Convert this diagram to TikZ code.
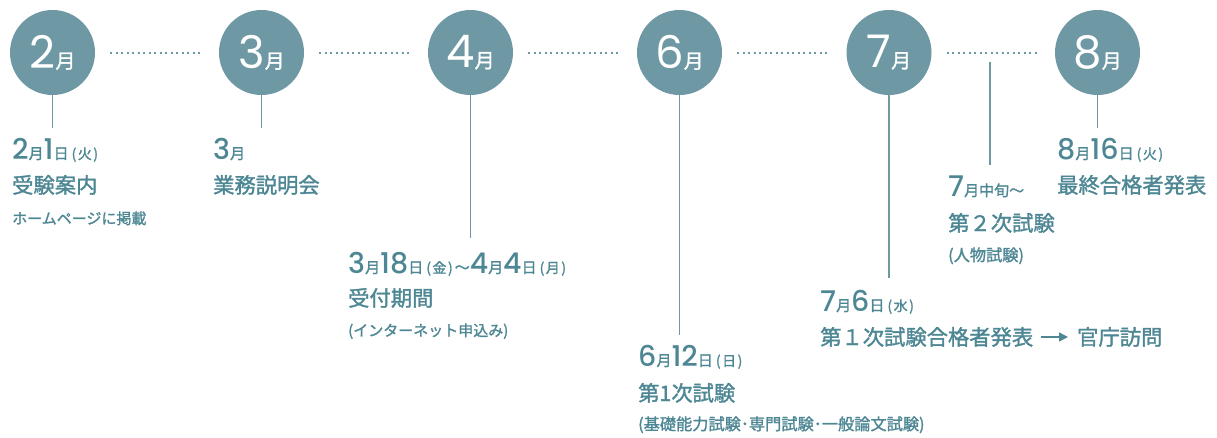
\documentclass[tikz,border=0pt]{standalone}
\usepackage{fontspec}
\usetikzlibrary{arrows.meta}
\newfontfamily\cjk{Noto Sans CJK JP}[FakeBold=1.5]
\newfontfamily\dgfont{Poppins}
\newfontfamily\dgfontm{Poppins Medium}
\definecolor{circ}{RGB}{109,152,164}
\definecolor{txt}{RGB}{78,135,148}
\newcommand\dg[1]{{\dgfontm\fontsize{28.5}{28.5}\selectfont #1}}
\newcommand\sm[1]{{\cjk\fontsize{15}{15}\selectfont #1}}
\newcommand\ps[1]{{\cjk\fontsize{14}{14}\selectfont\kern3pt(\kern1.5pt#1\kern1.5pt)}}
\newcommand\monthlbl[1]{{\dgfont\fontsize{45}{45}\selectfont #1}{\cjk\fontsize{20}{20}\selectfont 月}}
\tikzset{
  month/.style={circle, fill=circ, minimum size=85pt, inner sep=0pt, text=white},
  dotline/.style={circ, line width=2pt, dash pattern=on 2pt off 3.5pt, shorten <=15pt, shorten >=16pt},
  vline/.style={circ, line width=1.6pt},
  datetxt/.style={anchor=base west, inner sep=0pt, text=txt},
  titletxt/.style={anchor=base west, inner sep=0pt, text=txt, font=\cjk\fontsize{21.3}{21.3}\selectfont},
  notetxt/.style={anchor=base west, inner sep=0pt, text=txt, font=\cjk\fontsize{15}{15}\selectfont},
  bignote/.style={notetxt, font=\cjk\fontsize{16.2}{16.2}\selectfont},
  arr/.style={txt, line width=1.6pt, -{Triangle[length=9pt,width=9pt]}}
}
\begin{document}
\begin{tikzpicture}[x=1pt,y=-1pt]
\useasboundingbox (0,0) rectangle (1217,437);
% month circles
\node[month] (m2) at (52.5,52.5) {\monthlbl{2}};
\node[month] (m3) at (261.5,52.5) {\monthlbl{3}};
\node[month] (m4) at (470.5,52.5) {\monthlbl{4}};
\node[month] (m6) at (679.5,52.5) {\monthlbl{6}};
\node[month] (m7) at (889,52.5) {\monthlbl{7}};
\node[month] (m8) at (1097.5,52.5) {\monthlbl{8}};
% dotted connectors
\draw[dotline] (m2) -- (m3);
\draw[dotline] (m3) -- (m4);
\draw[dotline] (m4) -- (m6);
\draw[dotline] (m6) -- (m7);
\draw[dotline] (m7) -- (m8);
% line ends
\coordinate (e2) at (52.5,128);
\coordinate (e3) at (261.5,128);
\coordinate (e4) at (470.5,238);
\coordinate (e6) at (679.5,335);
\coordinate (e7) at (889,278);
\coordinate (e8) at (1097.5,128);
\coordinate (mt) at (990,62);
\coordinate (mb) at (990,165);
\draw[vline] (m2.south) -- (e2);
\draw[vline] (m3.south) -- (e3);
\draw[vline] (m4.south) -- (e4);
\draw[vline] (m6.south) -- (e6);
\draw[vline] (m7.south) -- (e7);
\draw[vline] (m8.south) -- (e8);
\draw[vline] (mt) -- (mb);
% February
\node[datetxt] (d2) at (12,159) {\dg{2}\sm{月}\dg{1}\sm{日}\ps{火}};
\node[titletxt] (t2) at (12,193) {受験案内};
\node[notetxt] (n2) at (12,224) {ホームページに掲載};
% March
\node[datetxt] (d3) at (213,159) {\dg{3}\sm{月}};
\node[titletxt] (t3) at (213,193) {業務説明会};
% April
\node[datetxt] (d4) at (348,273) {\dg{3}\sm{月}\dg{18}\sm{日}\ps{金}\sm{\kern2pt\char"FF5E}\dg{4}\sm{月}\dg{4}\sm{日}\ps{月}};
\node[titletxt] (t4) at (348,306) {受付期間};
\node[notetxt] (n4) at (348,336) {(インターネット申込み)};
% June
\node[datetxt] (d6) at (638,366) {\dg{6}\sm{月}\dg{12}\sm{日}\ps{日}};
\node[titletxt] (t6) at (638,401) {第1次試験};
\node[bignote] (n6) at (638,430) {(基礎能力試験･専門試験･一般論文試験)};
% July
\node[datetxt] (d7) at (820,311) {\dg{7}\sm{月}\dg{6}\sm{日}\ps{水}};
\node[titletxt] (t7) at (820,345) {第１次試験合格者発表};
\node[titletxt] (g7) at (1077,345) {官庁訪問};
\draw[arr] ([xshift=8pt,yshift=8pt]t7.base east) -- ([xshift=-9pt,yshift=8pt]g7.base west);
% mid July
\node[datetxt] (d7b) at (948,196) {\dg{7}\sm{月中旬～}};
\node[titletxt] (t7b) at (948,231) {第２次試験};
\node[bignote] (n7b) at (948,261) {(人物試験)};
% August
\node[datetxt] (d8) at (1057,159) {\dg{8}\sm{月}\dg{16}\sm{日}\ps{火}};
\node[titletxt] (t8) at (1057,193) {最終合格者発表};
\end{tikzpicture}
\end{document}
